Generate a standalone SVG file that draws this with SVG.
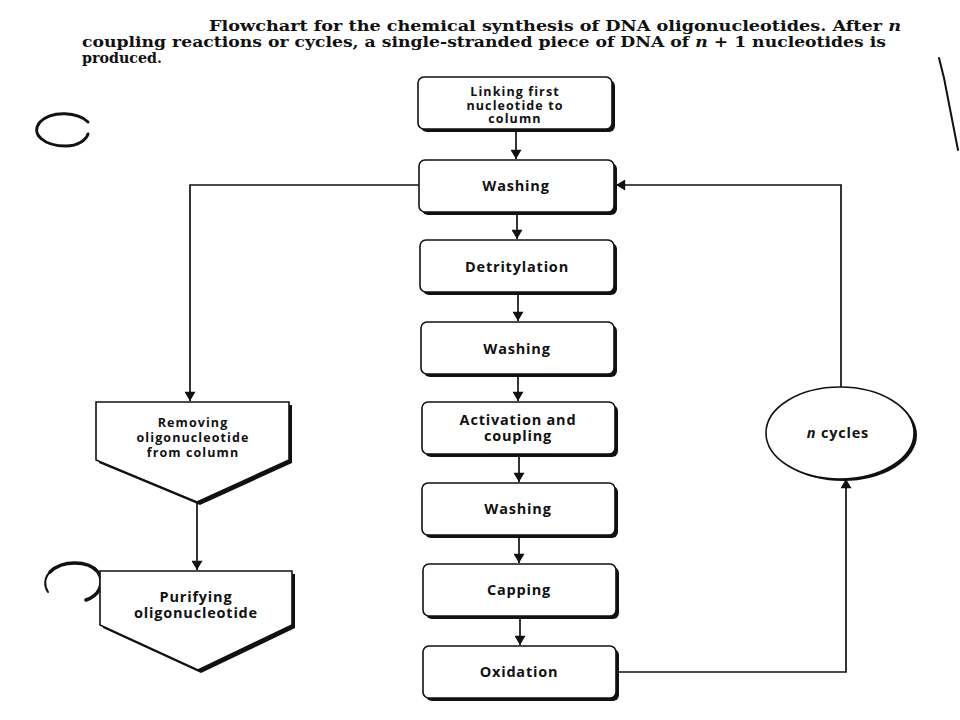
<svg xmlns="http://www.w3.org/2000/svg" width="960" height="720" viewBox="0 0 960 720">
<defs>
<style>
.title{font-family:"DejaVu Serif","Liberation Serif",serif;font-weight:bold;font-size:14px;fill:#111}
.lbl{font-family:"Open Sans","Liberation Sans",Arial,sans-serif;font-weight:bold;font-size:14.5px;letter-spacing:0.8px;fill:#111;text-anchor:middle}
.sm{font-size:12.5px;letter-spacing:1.1px}
.box{fill:#fff;stroke:#111;stroke-width:1.6}
.sh{fill:#111}
.ln{fill:none;stroke:#111;stroke-width:1.7}
.scan{fill:none;stroke:#111;stroke-linecap:round}
</style>
<marker id="ah" viewBox="0 0 10 12" refX="10" refY="6" markerWidth="12" markerHeight="11" markerUnits="userSpaceOnUse" orient="auto">
<path d="M0,0 L10,6 L0,12 Z" fill="#111"/>
</marker>
</defs>
<rect width="960" height="720" fill="#fff"/>

<g id="title">
<text class="title" x="209" y="31" textLength="692" lengthAdjust="spacingAndGlyphs">Flowchart for the chemical synthesis of DNA oligonucleotides. After <tspan font-style="italic">n</tspan></text>
<text class="title" x="82" y="47" textLength="804" lengthAdjust="spacingAndGlyphs">coupling reactions or cycles, a single-stranded piece of DNA of <tspan font-style="italic">n</tspan> + 1 nucleotides is</text>
<text class="title" x="82" y="63" textLength="80" lengthAdjust="spacingAndGlyphs">produced.</text>
</g>

<g id="scan-marks">
<path class="scan" stroke-width="3" d="M88,122 C78,112 52,110 40,122 C30,134 44,146 66,146 C78,146 86,140 88,134"/>
<path class="scan" stroke-width="3.5" d="M50,572 C62,560 88,560 98,572 C106,584 98,596 86,600"/>
<path class="scan" stroke-width="2" d="M50,572 C44,578 44,586 48,592"/>
<path class="scan" stroke-width="2" d="M939,58 L944,78 L958,150"/>
</g>

<g id="connectors">
<line class="ln" x1="516" y1="130" x2="516" y2="159" marker-end="url(#ah)"/>
<line class="ln" x1="517" y1="212" x2="517" y2="239" marker-end="url(#ah)"/>
<line class="ln" x1="518" y1="294" x2="518" y2="321" marker-end="url(#ah)"/>
<line class="ln" x1="518" y1="375" x2="518" y2="401" marker-end="url(#ah)"/>
<line class="ln" x1="519" y1="456" x2="519" y2="482" marker-end="url(#ah)"/>
<line class="ln" x1="519" y1="536" x2="519" y2="563" marker-end="url(#ah)"/>
<line class="ln" x1="520" y1="617" x2="520" y2="645" marker-end="url(#ah)"/>
<polyline class="ln" points="419,185 190,185 190,401" marker-end="url(#ah)"/>
<line class="ln" x1="197" y1="502" x2="197" y2="570" marker-end="url(#ah)"/>
<polyline class="ln" points="616,672 846,672 846,479" marker-end="url(#ah)"/>
<polyline class="ln" points="841,387 841,185 616,185" marker-end="url(#ah)"/>
</g>

<g id="node-linking">
<rect class="sh" x="421" y="80" width="194" height="52" rx="6"/>
<rect class="box" x="418" y="77" width="194" height="52" rx="6"/>
<text class="lbl sm" x="515" y="96">Linking first</text>
<text class="lbl sm" x="515" y="109.5">nucleotide to</text>
<text class="lbl sm" x="515" y="123">column</text>
</g>
<g id="node-washing1">
<rect class="sh" x="422" y="163" width="195" height="52" rx="6"/>
<rect class="box" x="419" y="160" width="195" height="52" rx="6"/>
<text class="lbl" x="516" y="191">Washing</text>
</g>
<g id="node-detritylation">
<rect class="sh" x="423" y="243" width="194" height="52" rx="6"/>
<rect class="box" x="420" y="240" width="194" height="52" rx="6"/>
<text class="lbl" x="517" y="272">Detritylation</text>
</g>
<g id="node-washing2">
<rect class="sh" x="424" y="325" width="193" height="52" rx="6"/>
<rect class="box" x="421" y="322" width="193" height="52" rx="6"/>
<text class="lbl" x="517" y="354">Washing</text>
</g>
<g id="node-activation">
<rect class="sh" x="425" y="405" width="193" height="52" rx="6"/>
<rect class="box" x="422" y="402" width="193" height="52" rx="6"/>
<text class="lbl" x="518" y="425">Activation and</text>
<text class="lbl" x="518" y="441">coupling</text>
</g>
<g id="node-washing3">
<rect class="sh" x="425" y="486" width="193" height="52" rx="6"/>
<rect class="box" x="422" y="483" width="193" height="52" rx="6"/>
<text class="lbl" x="518" y="514">Washing</text>
</g>
<g id="node-capping">
<rect class="sh" x="426" y="567" width="193" height="52" rx="6"/>
<rect class="box" x="423" y="564" width="193" height="52" rx="6"/>
<text class="lbl" x="519" y="595">Capping</text>
</g>
<g id="node-oxidation">
<rect class="sh" x="426" y="649" width="193" height="52" rx="6"/>
<rect class="box" x="423" y="646" width="193" height="52" rx="6"/>
<text class="lbl" x="519" y="677">Oxidation</text>
</g>

<g id="node-removing">
<path class="sh" d="M99,405 L292,405 L292,463 L200,505 L99,463 Z"/>
<path class="box" d="M96,402 L289,402 L289,460 L197,502 L96,460 Z"/>
<text class="lbl sm" x="193" y="427">Removing</text>
<text class="lbl sm" x="193" y="442">oligonucleotide</text>
<text class="lbl sm" x="193" y="457">from column</text>
</g>
<g id="node-purifying">
<path class="sh" d="M103,574 L295,574 L295,628 L201,673 L103,628 Z"/>
<path class="box" d="M100,571 L292,571 L292,625 L198,670 L100,625 Z"/>
<text class="lbl" x="196" y="602">Purifying</text>
<text class="lbl" x="196" y="618">oligonucleotide</text>
</g>

<g id="node-ncycles">
<ellipse class="sh" cx="843" cy="435" rx="74" ry="46"/>
<ellipse class="box" cx="840" cy="433" rx="74" ry="46"/>
<text class="lbl" x="838" y="438"><tspan font-style="italic">n</tspan> cycles</text>
</g>
</svg>
